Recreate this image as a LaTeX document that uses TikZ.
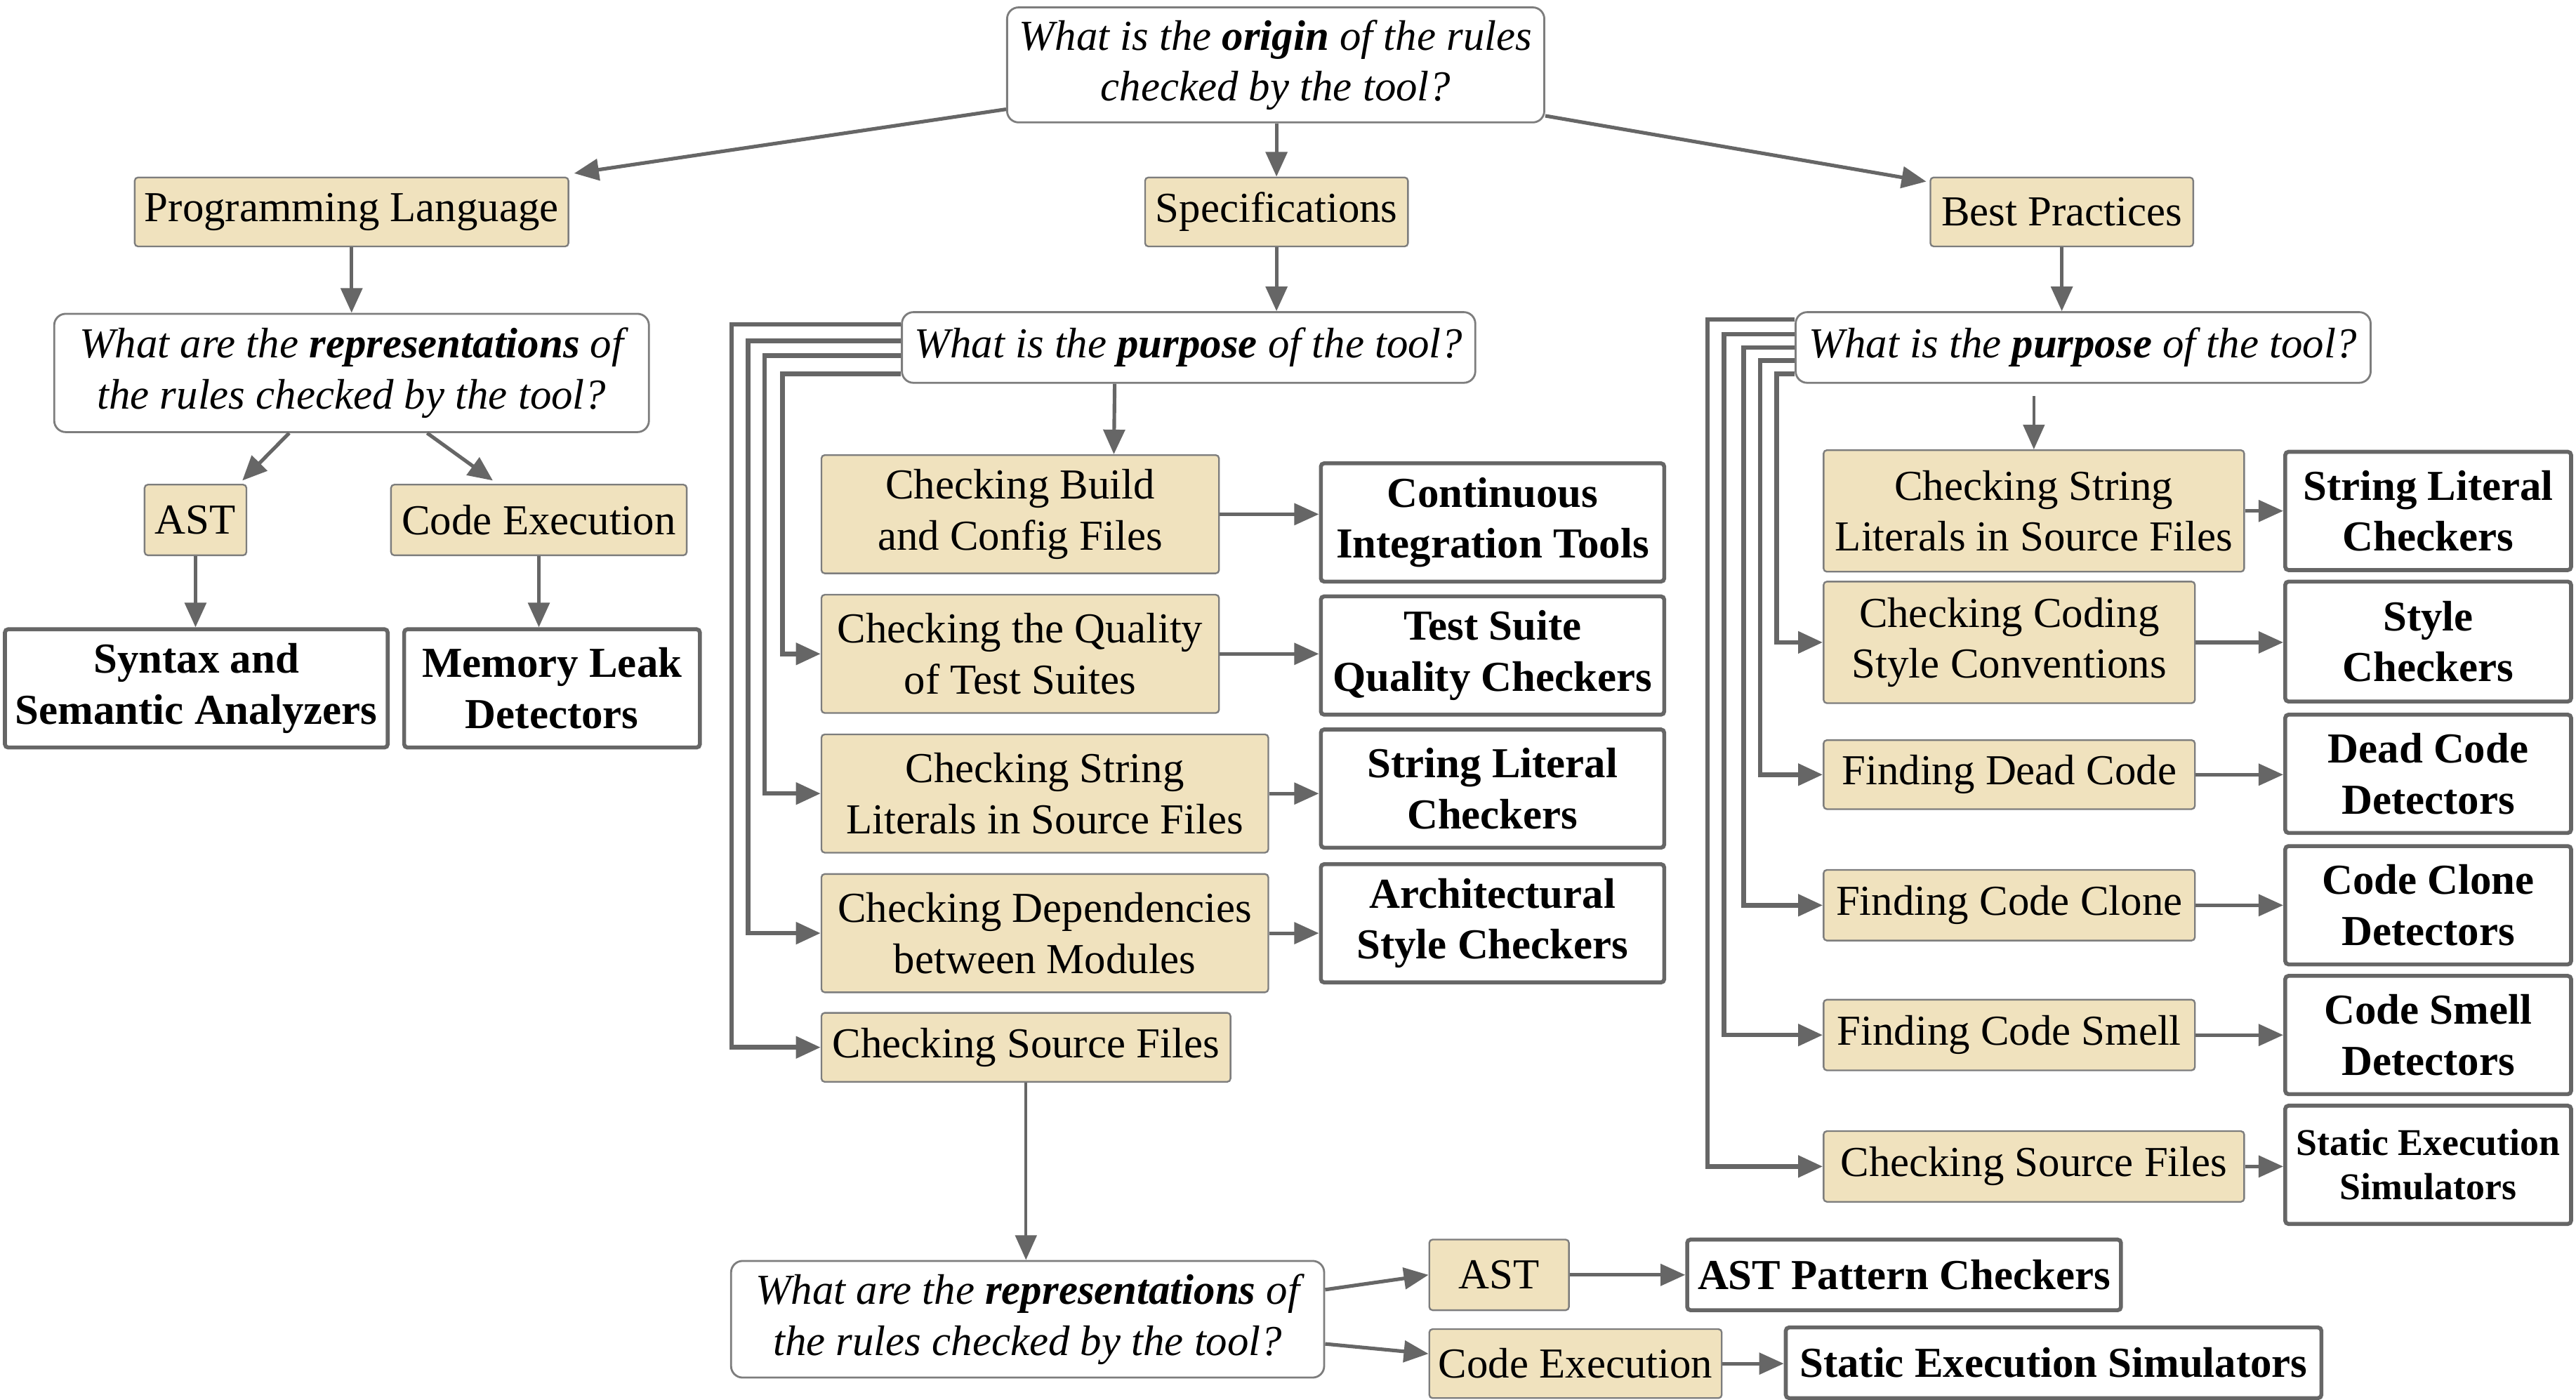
\documentclass[tikz,border=0pt]{standalone}
\usepackage{fontspec}
\setmainfont{Liberation Serif}
\usetikzlibrary{arrows.meta,calc}
\definecolor{tanfill}{RGB}{240,226,190}
\definecolor{edgegray}{RGB}{102,102,102}
\definecolor{boxgray}{RGB}{125,125,125}
\tikzset{every picture/.style={line width=0.75pt}}
\tikzset{
  question/.style={draw=boxgray, line width=1.2pt, rounded corners=7pt, fill=white, align=center, inner sep=2pt, font=\fontsize{26}{31}\selectfont\itshape},
  purposebox/.style={draw=boxgray, line width=1pt, rounded corners=2pt, fill=tanfill, align=center, inner sep=2pt, font=\fontsize{26}{31}\selectfont},
  toolbox/.style={draw=edgegray, line width=2.4pt, rounded corners=2pt, fill=white, align=center, inner sep=2pt, font=\fontsize{26}{31}\selectfont\bfseries},
  arr/.style={draw=edgegray, line width=2.2pt, -{Triangle[length=15pt,width=13pt]}},
  elbow/.style={arr, line width=2.8pt},
}

\begin{document}
\begin{tikzpicture}[x=1pt,y=1pt,yscale=-1,xscale=1]
\useasboundingbox (0,0) rectangle (1568,852);

%Root question
\node[question, minimum width=327pt, minimum height=70pt] (q0) at (776.5,39.5) {What is the \textbf{origin} of the rules\\checked by the tool?};

%Origins
\node[purposebox, minimum width=264pt, minimum height=42pt] (pl) at (214,129) {Programming Language};
\node[purposebox, minimum width=160pt, minimum height=42pt] (spec) at (777,129) {Specifications};
\node[purposebox, minimum width=160pt, minimum height=42pt] (bp) at (1255,129) {Best Practices};

%Programming language branch
\node[question, minimum width=362pt, minimum height=72pt] (q1) at (214,227) {What are the \textbf{representations} of\\the rules checked by the tool?};
\node[purposebox, minimum width=62pt, minimum height=43pt] (ast1) at (119,316.5) {AST};
\node[purposebox, minimum width=180pt, minimum height=43pt] (ce1) at (328,316.5) {Code Execution};
\node[toolbox, minimum width=233pt, minimum height=72pt] (syn) at (119.5,419) {Syntax and\\Semantic Analyzers};
\node[toolbox, minimum width=180pt, minimum height=72pt] (mem) at (336,419) {Memory Leak\\Detectors};

%Specifications branch
\node[question, minimum width=349pt, minimum height=43pt] (q2) at (723.5,211.5) {What is the \textbf{purpose} of the tool?};
\node[purposebox, minimum width=242pt, minimum height=72pt] (build) at (621,313) {Checking Build\\and Config Files};
\node[purposebox, minimum width=242pt, minimum height=72pt] (qual) at (621,398) {Checking the Quality\\of Test Suites};
\node[purposebox, minimum width=272pt, minimum height=72pt] (csl) at (636,483) {Checking String\\Literals in Source Files};
\node[purposebox, minimum width=272pt, minimum height=72pt] (dep) at (636,568) {Checking Dependencies\\between Modules};
\node[purposebox, minimum width=249pt, minimum height=42pt] (csf) at (624.5,637.5) {Checking Source Files};
\node[toolbox, minimum width=209pt, minimum height=72pt] (ci) at (908.5,318) {Continuous\\Integration Tools};
\node[toolbox, minimum width=209pt, minimum height=72pt] (tsq) at (908.5,399) {Test Suite\\Quality Checkers};
\node[toolbox, minimum width=209pt, minimum height=72pt] (slc) at (908.5,480) {String Literal\\Checkers};
\node[toolbox, minimum width=209pt, minimum height=72pt] (arc) at (908.5,562) {Architectural\\Style Checkers};

%Representations under source files
\node[question, minimum width=361pt, minimum height=71pt] (q3) at (625.5,803) {What are the \textbf{representations} of\\the rules checked by the tool?};
\node[purposebox, minimum width=85pt, minimum height=43pt] (ast3) at (912.5,776) {AST};
\node[purposebox, minimum width=178pt, minimum height=42pt] (ce3) at (959,830) {Code Execution};
\node[toolbox, minimum width=264pt, minimum height=43pt] (apc) at (1159,776) {AST Pattern Checkers};
\node[toolbox, minimum width=326pt, minimum height=43pt] (ses) at (1250,829.5) {Static Execution Simulators};

%Best practices branch
\node[question, minimum width=350pt, minimum height=43pt] (q4) at (1268,211.5) {What is the \textbf{purpose} of the tool?};
\coordinate (q4out) at (1238,241);
\node[purposebox, minimum width=256pt, minimum height=74pt] (csl2) at (1238,311) {Checking String\\Literals in Source Files};
\node[purposebox, minimum width=226pt, minimum height=74pt] (ccs) at (1223,391) {Checking Coding\\Style Conventions};
\node[purposebox, minimum width=226pt, minimum height=42pt] (fdc) at (1223,471.5) {Finding Dead Code};
\node[purposebox, minimum width=226pt, minimum height=43pt] (fcc) at (1223,551) {Finding Code Clone};
\node[purposebox, minimum width=226pt, minimum height=43pt] (fcs) at (1223,630) {Finding Code Smell};
\node[purposebox, minimum width=256pt, minimum height=43pt] (csf2) at (1238,710) {Checking Source Files};
\node[toolbox, minimum width=174pt, minimum height=72pt] (slc2) at (1478,311) {String Literal\\Checkers};
\node[toolbox, minimum width=174pt, minimum height=73pt] (sty) at (1478,390.5) {Style\\Checkers};
\node[toolbox, minimum width=174pt, minimum height=72pt] (dcd) at (1478,471) {Dead Code\\Detectors};
\node[toolbox, minimum width=174pt, minimum height=72pt] (ccd) at (1478,551) {Code Clone\\Detectors};
\node[toolbox, minimum width=174pt, minimum height=72pt] (csd) at (1478,630) {Code Smell\\Detectors};
\node[toolbox, minimum width=174pt, minimum height=72pt, font=\fontsize{23}{27}\selectfont\bfseries] (ses2) at (1478,709) {Static Execution\\Simulators};

%Arrows from the root
\draw[arr] ($(q0.west)+(0,27)$) -- ($(pl.north east)+(3,-2)$);
\draw[arr] (spec.north |- q0.south) -- (spec.north);
\draw[arr] ($(q0.east)+(0,31)$) -- ($(bp.north west)+(-2,3)$);

%Programming language arrows
\draw[arr] (pl.south) -- (q1.north);
\draw[arr] ($(q1.south)+(-38,0)$) -- ($(ast1.north east)+(-3,-2)$);
\draw[arr] ($(q1.south)+(46,0)$) -- ($(ce1.north)+(-28,-2)$);
\draw[arr] (ast1.south) -- (ast1.south |- syn.north);
\draw[arr] (ce1.south) -- (ce1.south |- mem.north);

%Specifications arrows
\draw[arr] (spec.south) -- (spec.south |- q2.north);
\draw[arr] ($(q2.south)+(-45,0)$) -- ($(build.north)+(57,0)$);
\draw[elbow] ($(q2.west)+(0,-14)$) -- ++(-103,0) |- (csf.west);
\draw[elbow] ($(q2.west)+(0,-4)$) -- ++(-93,0) |- (dep.west);
\draw[elbow] ($(q2.west)+(0,5)$) -- ++(-83,0) |- (csl.west);
\draw[elbow] ($(q2.west)+(0,16)$) -- ++(-72,0) |- (qual.west);
\draw[arr] (build.east) -- (build.east -| ci.west);
\draw[arr] (qual.east) -- (qual.east -| tsq.west);
\draw[arr] (csl.east) -- (csl.east -| slc.west);
\draw[arr] (dep.east) -- (dep.east -| arc.west);

%Source files representations
\draw[arr, line width=1.6pt] (csf.south) -- (csf.south |- q3.north);
\draw[arr] ($(q3.east)+(0,-18)$) -- (ast3.west);
\draw[arr] ($(q3.east)+(0,15)$) -- ($(ce3.west)+(0,-6)$);
\draw[arr] (ast3.east) -- (ast3.east -| apc.west);
\draw[arr] (ce3.east) -- (ce3.east -| ses.west);

%Best practices arrows
\draw[arr] (bp.south) -- (bp.south |- q4.north);
\draw[arr, line width=1.6pt] (q4out) -- (csl2.north);
\draw[elbow] ($(q4.west)+(0,-17)$) -- ++(-53,0) |- (csf2.west);
\draw[elbow] ($(q4.west)+(0,-8)$) -- ++(-43,0) |- (fcs.west);
\draw[elbow] (q4.west) -- ++(-31,0) |- (fcc.west);
\draw[elbow] ($(q4.west)+(0,8)$) -- ++(-21,0) |- (fdc.west);
\draw[elbow] ($(q4.west)+(0,16)$) -- ++(-11,0) |- (ccs.west);
\draw[arr] (csl2.east) -- (csl2.east -| slc2.west);
\draw[arr] (ccs.east) -- (ccs.east -| sty.west);
\draw[arr] (fdc.east) -- (fdc.east -| dcd.west);
\draw[arr] (fcc.east) -- (fcc.east -| ccd.west);
\draw[arr] (fcs.east) -- (fcs.east -| csd.west);
\draw[arr] (csf2.east) -- (csf2.east -| ses2.west);

\end{tikzpicture}
\end{document}
